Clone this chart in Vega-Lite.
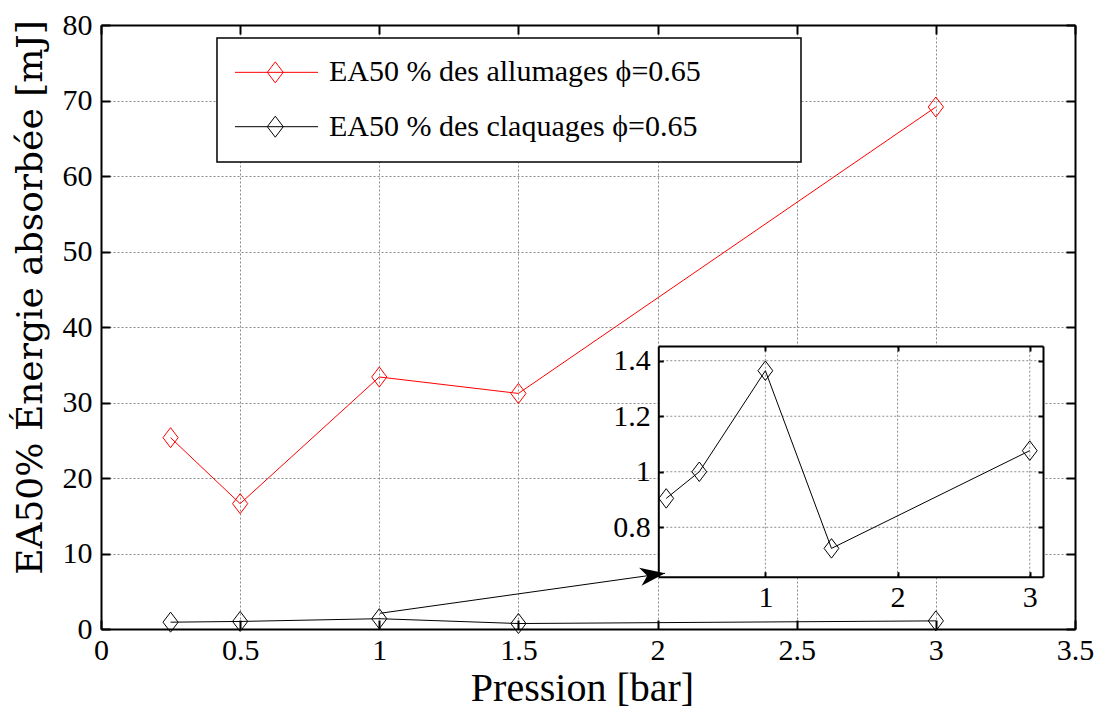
{
  "$schema": "https://vega.github.io/schema/vega-lite/v6.json",
  "width": 974,
  "height": 604,
  "autosize": {"type": "none"},
  "padding": {"left": 101, "top": 25, "right": 27, "bottom": 80},
  "background": "white",
  "config": {
    "view": {"stroke": null},
    "font": "Liberation Serif",
    "axis": {
      "labelFont": "Liberation Serif",
      "titleFont": "Liberation Serif",
      "labelColor": "black",
      "titleColor": "black",
      "titleFontWeight": "normal",
      "domainColor": "black",
      "tickColor": "black",
      "labelFlush": false,
      "labelOverlap": false,
      "labelBound": false
    }
  },
  "datasets": {
    "allumages": [
      {"p": 0.25, "e": 25.34},
      {"p": 0.5, "e": 16.6},
      {"p": 1, "e": 33.38},
      {"p": 1.5, "e": 31.2},
      {"p": 3, "e": 69.14}
    ],
    "claquages": [
      {"p": 0.25, "e": 0.904},
      {"p": 0.5, "e": 1.0},
      {"p": 1, "e": 1.364},
      {"p": 1.5, "e": 0.724},
      {"p": 3, "e": 1.076}
    ],
    "fleche": [
      {"p": 1.0025, "e": 2.08},
      {"p": 2.027, "e": 7.38}
    ],
    "pointe": [
      {"p": 2.027, "e": 7.38}
    ],
    "cadre": [
      {"x1": 0.4168, "x2": 2.5154, "y1": 61.85, "y2": 78.28}
    ],
    "legende": [
      {"serie": "allumages", "texte": "EA50 % des allumages ϕ=0.65", "lx1": 0.4815, "lx2": 0.7798, "lx": 0.6263, "tx": 0.8193, "ly": 73.73},
      {"serie": "claquages", "texte": "EA50 % des claquages ϕ=0.65", "lx1": 0.4815, "lx2": 0.7798, "lx": 0.6263, "tx": 0.8193, "ly": 66.53}
    ],
    "encart": [
      {"x1": 0.19, "x2": 3.1, "y1": 0.622, "y2": 1.453}
    ],
    "grilleX": [{"g": 1}, {"g": 2}, {"g": 3}],
    "grilleY": [{"g": 0.8}, {"g": 1.0}, {"g": 1.2}, {"g": 1.4}]
  },
  "resolve": {
    "scale": {"x": "independent", "y": "independent"},
    "axis": {"x": "independent", "y": "independent"}
  },
  "layer": [
    {
      "data": {"name": "allumages"},
      "mark": {"type": "line", "color": "#ff0000", "strokeWidth": 1},
      "encoding": {
        "x": {
          "field": "p", "type": "quantitative",
          "scale": {"domain": [0, 3.5], "nice": false, "zero": false},
          "axis": {
            "orient": "bottom", "title": "Pression [bar]",
            "values": [0, 0.5, 1, 1.5, 2, 2.5, 3, 3.5], "format": "~g",
            "labelFontSize": 30, "labelBaseline": "alphabetic", "labelPadding": 39,
            "tickSize": -9, "tickWidth": 2, "domainWidth": 2,
            "grid": true, "gridColor": "#8a8a8a", "gridDash": [2, 2], "gridWidth": 1,
            "titleFontSize": 40, "titleX": 481, "titleY": 71, "titleBaseline": "alphabetic", "titleAlign": "center"
          }
        },
        "y": {
          "field": "e", "type": "quantitative",
          "scale": {"domain": [0, 80], "nice": false, "zero": false},
          "axis": {
            "orient": "left", "title": "EA50% Énergie absorbée [mJ]",
            "values": [0, 10, 20, 30, 40, 50, 60, 70, 80],
            "labelFontSize": 30, "labelPadding": 18,
            "tickSize": -9, "tickWidth": 2, "domainWidth": 2,
            "grid": true, "gridColor": "#8a8a8a", "gridDash": [2, 2], "gridWidth": 1,
            "titleFont": "DejaVu Serif", "titleFontSize": 36, "titleX": -60, "titleY": 272, "titleBaseline": "alphabetic", "titleAngle": 270, "titleAlign": "center"
          }
        }
      }
    },
    {
      "data": {"name": "allumages"},
      "mark": {"type": "point", "shape": "M0,-1L0.76,0L0,1L-0.76,0Z", "filled": false, "color": "#ff0000", "strokeWidth": 1, "size": 400, "opacity": 1},
      "encoding": {
        "x": {"field": "p", "type": "quantitative", "scale": {"domain": [0, 3.5], "nice": false, "zero": false}, "axis": null},
        "y": {"field": "e", "type": "quantitative", "scale": {"domain": [0, 80], "nice": false, "zero": false}, "axis": null}
      }
    },
    {
      "data": {"name": "claquages"},
      "mark": {"type": "line", "color": "black", "strokeWidth": 1},
      "encoding": {
        "x": {
          "field": "p", "type": "quantitative",
          "scale": {"domain": [0, 3.5], "nice": false, "zero": false},
          "axis": {"orient": "top", "title": null, "values": [0, 0.5, 1, 1.5, 2, 2.5, 3, 3.5], "labels": false, "tickSize": -9, "tickWidth": 2, "domainWidth": 2, "grid": false}
        },
        "y": {
          "field": "e", "type": "quantitative",
          "scale": {"domain": [0, 80], "nice": false, "zero": false},
          "axis": {"orient": "right", "title": null, "values": [0, 10, 20, 30, 40, 50, 60, 70, 80], "labels": false, "tickSize": -9, "tickWidth": 2, "domainWidth": 2, "grid": false}
        }
      }
    },
    {
      "data": {"name": "claquages"},
      "mark": {"type": "point", "shape": "M0,-1L0.76,0L0,1L-0.76,0Z", "filled": false, "color": "black", "strokeWidth": 1, "size": 400, "opacity": 1},
      "encoding": {
        "x": {"field": "p", "type": "quantitative", "scale": {"domain": [0, 3.5], "nice": false, "zero": false}, "axis": null},
        "y": {"field": "e", "type": "quantitative", "scale": {"domain": [0, 80], "nice": false, "zero": false}, "axis": null}
      }
    },
    {
      "data": {"name": "cadre"},
      "mark": {"type": "rect", "fill": "white", "stroke": "black", "strokeWidth": 1.5},
      "encoding": {
        "x": {"field": "x1", "type": "quantitative", "scale": {"domain": [0, 3.5], "nice": false, "zero": false}, "axis": null},
        "x2": {"field": "x2"},
        "y": {"field": "y1", "type": "quantitative", "scale": {"domain": [0, 80], "nice": false, "zero": false}, "axis": null},
        "y2": {"field": "y2"}
      }
    },
    {
      "data": {"name": "legende"},
      "mark": {"type": "rule", "strokeWidth": 1},
      "encoding": {
        "x": {"field": "lx1", "type": "quantitative", "scale": {"domain": [0, 3.5], "nice": false, "zero": false}, "axis": null},
        "x2": {"field": "lx2"},
        "y": {"field": "ly", "type": "quantitative", "scale": {"domain": [0, 80], "nice": false, "zero": false}, "axis": null},
        "color": {"field": "serie", "type": "nominal", "scale": {"domain": ["allumages", "claquages"], "range": ["#ff0000", "#000000"]}, "legend": null}
      }
    },
    {
      "data": {"name": "legende"},
      "mark": {"type": "point", "shape": "M0,-1L0.76,0L0,1L-0.76,0Z", "filled": false, "strokeWidth": 1, "size": 441, "opacity": 1},
      "encoding": {
        "x": {"field": "lx", "type": "quantitative", "scale": {"domain": [0, 3.5], "nice": false, "zero": false}, "axis": null},
        "y": {"field": "ly", "type": "quantitative", "scale": {"domain": [0, 80], "nice": false, "zero": false}, "axis": null},
        "color": {"field": "serie", "type": "nominal", "scale": {"domain": ["allumages", "claquages"], "range": ["#ff0000", "#000000"]}, "legend": null}
      }
    },
    {
      "data": {"name": "legende"},
      "mark": {"type": "text", "align": "left", "baseline": "middle", "fontSize": 30, "font": "Liberation Serif", "color": "black"},
      "encoding": {
        "x": {"field": "tx", "type": "quantitative", "scale": {"domain": [0, 3.5], "nice": false, "zero": false}, "axis": null},
        "y": {"field": "ly", "type": "quantitative", "scale": {"domain": [0, 80], "nice": false, "zero": false}, "axis": null},
        "text": {"field": "texte"}
      }
    },
    {
      "data": {"name": "encart"},
      "mark": {"type": "rect", "fill": "white", "stroke": null},
      "encoding": {
        "x": {
          "field": "x1", "type": "quantitative",
          "scale": {"domain": [0.19, 3.1], "range": [557.3, 942], "nice": false, "zero": false},
          "axis": {"orient": "bottom", "offset": -52.3, "title": null, "values": [1, 2, 3], "format": "~g",
                   "labelFontSize": 30, "labelBaseline": "alphabetic", "labelPadding": 35,
                   "tickSize": -5, "tickWidth": 2, "domainWidth": 2, "grid": false, "zindex": 1}
        },
        "x2": {"field": "x2"},
        "y": {
          "field": "y1", "type": "quantitative",
          "scale": {"domain": [0.622, 1.453], "range": [551.7, 321], "nice": false, "zero": false},
          "axis": {"orient": "left", "offset": -557.3, "title": null, "values": [0.8, 1, 1.2, 1.4], "format": "~g",
                   "labelFontSize": 30, "labelPadding": 13,
                   "tickSize": -5, "tickWidth": 2, "domainWidth": 2, "grid": false, "zindex": 1}
        },
        "y2": {"field": "y2"}
      }
    },
    {
      "data": {"name": "grilleX"},
      "mark": {"type": "rule", "color": "#8a8a8a", "strokeDash": [2, 2], "strokeWidth": 1},
      "encoding": {
        "x": {"field": "g", "type": "quantitative", "scale": {"domain": [0.19, 3.1], "range": [557.3, 942], "nice": false, "zero": false}, "axis": null},
        "y": {"datum": 0.622, "type": "quantitative", "scale": {"domain": [0.622, 1.453], "range": [551.7, 321], "nice": false, "zero": false}, "axis": null},
        "y2": {"datum": 1.453}
      }
    },
    {
      "data": {"name": "grilleY"},
      "mark": {"type": "rule", "color": "#8a8a8a", "strokeDash": [2, 2], "strokeWidth": 1},
      "encoding": {
        "y": {"field": "g", "type": "quantitative", "scale": {"domain": [0.622, 1.453], "range": [551.7, 321], "nice": false, "zero": false}, "axis": null},
        "x": {"datum": 0.19, "type": "quantitative", "scale": {"domain": [0.19, 3.1], "range": [557.3, 942], "nice": false, "zero": false}, "axis": null},
        "x2": {"datum": 3.1}
      }
    },
    {
      "data": {"name": "claquages"},
      "mark": {"type": "line", "color": "black", "strokeWidth": 1},
      "encoding": {
        "x": {
          "field": "p", "type": "quantitative",
          "scale": {"domain": [0.19, 3.1], "range": [557.3, 942], "nice": false, "zero": false},
          "axis": {"orient": "top", "offset": -321, "title": null, "values": [1, 2, 3], "labels": false, "tickSize": -5, "tickWidth": 2, "domainWidth": 2, "grid": false, "zindex": 1}
        },
        "y": {
          "field": "e", "type": "quantitative",
          "scale": {"domain": [0.622, 1.453], "range": [551.7, 321], "nice": false, "zero": false},
          "axis": {"orient": "right", "offset": -32, "title": null, "values": [0.8, 1, 1.2, 1.4], "labels": false, "tickSize": -5, "tickWidth": 2, "domainWidth": 2, "grid": false, "zindex": 1}
        }
      }
    },
    {
      "data": {"name": "claquages"},
      "mark": {"type": "point", "shape": "M0,-1L0.76,0L0,1L-0.76,0Z", "filled": false, "color": "black", "strokeWidth": 1, "size": 380, "opacity": 1},
      "encoding": {
        "x": {"field": "p", "type": "quantitative", "scale": {"domain": [0.19, 3.1], "range": [557.3, 942], "nice": false, "zero": false}, "axis": null},
        "y": {"field": "e", "type": "quantitative", "scale": {"domain": [0.622, 1.453], "range": [551.7, 321], "nice": false, "zero": false}, "axis": null}
      }
    },
    {
      "data": {"name": "fleche"},
      "mark": {"type": "line", "color": "black", "strokeWidth": 1},
      "encoding": {
        "x": {"field": "p", "type": "quantitative", "scale": {"domain": [0, 3.5], "nice": false, "zero": false}, "axis": null},
        "y": {"field": "e", "type": "quantitative", "scale": {"domain": [0, 80], "nice": false, "zero": false}, "axis": null}
      }
    },
    {
      "data": {"name": "pointe"},
      "mark": {"type": "point", "shape": "M0,0L-2.5,-0.9L-1.8,0L-2.5,0.9Z", "filled": true, "color": "black", "size": 400, "angle": -8, "opacity": 1},
      "encoding": {
        "x": {"field": "p", "type": "quantitative", "scale": {"domain": [0, 3.5], "nice": false, "zero": false}, "axis": null},
        "y": {"field": "e", "type": "quantitative", "scale": {"domain": [0, 80], "nice": false, "zero": false}, "axis": null}
      }
    }
  ]
}
